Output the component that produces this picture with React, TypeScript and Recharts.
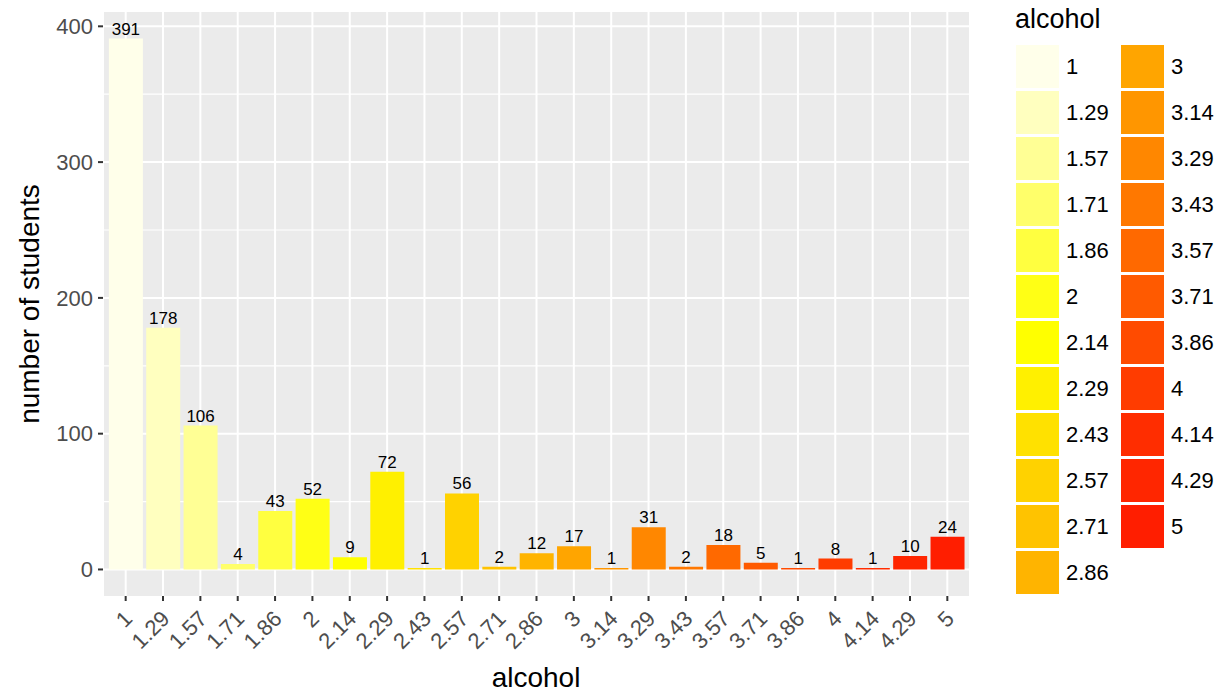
import React from 'react';
import { BarChart, Bar, XAxis, YAxis, CartesianGrid, Cell, LabelList } from 'recharts';

const alcoholLevels = ['1', '1.29', '1.57', '1.71', '1.86', '2', '2.14', '2.29', '2.43', '2.57', '2.71', '2.86',
    '3', '3.14', '3.29', '3.43', '3.57', '3.71', '3.86', '4', '4.14', '4.29', '5'];
const studentCounts = [391, 178, 106, 4, 43, 52, 9, 72, 1, 56, 2, 12, 17, 1, 31, 2, 18, 5, 1, 8, 1, 10, 24];
const barColors = ['#FFFFEA', '#FFFFBF', '#FFFF95', '#FFFF6A', '#FFFF40', '#FFFF15', '#FFFF00', '#FFF000',
    '#FFE100', '#FFD200', '#FFC300', '#FFB400', '#FFA500', '#FF9600', '#FF8700', '#FF7800', '#FF6900',
    '#FF5A00', '#FF4B00', '#FF3C00', '#FF2D00', '#FF2600', '#FF1E00'];
const yTicks = [0, 100, 200, 300, 400];
const yMinor = [50, 150, 250, 350];

const FONT = '"Liberation Sans", Arial, Helvetica, sans-serif';

const rows = alcoholLevels.map((a, i) => ({ alcohol: a, count: studentCounts[i] }));

function XTick(props: any) {
    const { x, y, payload } = props;
    return (
        <text
            x={x + 8}
            y={y + 19}
            transform={`rotate(-45, ${x + 8}, ${y + 19})`}
            textAnchor="end"
            fill="#4D4D4D"
            fontSize={22}
            fontFamily={FONT}
        >
            {payload.value}
        </text>
    );
}

function LegendBox() {
    const perCol = 12;
    return (
        <div style={{ position: 'absolute', left: 1015, top: 0, fontFamily: FONT }}>
            <div style={{ position: 'absolute', left: 0, top: 4, fontSize: 27, whiteSpace: 'nowrap', color: '#000' }}>
                alcohol
            </div>
            {alcoholLevels.map((lv, i) => {
                const col = Math.floor(i / perCol);
                const row = i % perCol;
                const left = 1 + col * 105;
                const top = 45 + row * 46;
                return (
                    <div key={lv}>
                        <div style={{ position: 'absolute', left, top, width: 43, height: 43, background: barColors[i] }} />
                        <div style={{
                            position: 'absolute', left: left + 50, top, height: 43, lineHeight: '43px',
                            fontSize: 22, color: '#000', whiteSpace: 'nowrap'
                        }}>
                            {lv}
                        </div>
                    </div>
                );
            })}
        </div>
    );
}

export default function App() {
    return (
        <div style={{ position: 'absolute', left: 0, top: 0, width: 1225, height: 694, background: '#fff', overflow: 'hidden' }}>
            <BarChart
                width={1225}
                height={694}
                data={rows}
                margin={{ top: 12, right: 255, bottom: 38, left: 40 }}
                barCategoryGap="5%"
            >
                <CartesianGrid
                    horizontalValues={yMinor}
                    vertical={false}
                    stroke="#FFFFFF"
                    strokeWidth={1.2}
                    fill="#EBEBEB"
                    fillOpacity={1}
                />
                <CartesianGrid
                    horizontalValues={yTicks}
                    stroke="#FFFFFF"
                    strokeWidth={2}
                />
                <XAxis
                    dataKey="alcohol"
                    type="category"
                    interval={0}
                    height={60}
                    axisLine={false}
                    tickSize={5}
                    tickMargin={0}
                    tickLine={{ stroke: '#333333', strokeWidth: 2 }}
                    padding={{ left: 4, right: 4 }}
                    tick={<XTick />}
                />
                <YAxis
                    type="number"
                    domain={[-19.55, 410.55]}
                    ticks={yTicks}
                    allowDataOverflow
                    width={63}
                    axisLine={false}
                    tickSize={5}
                    tickMargin={5}
                    tickLine={{ stroke: '#333333', strokeWidth: 2 }}
                    tick={{ fill: '#4D4D4D', fontSize: 22, fontFamily: FONT }}
                />
                <Bar dataKey="count" isAnimationActive={false}>
                    {rows.map((r, i) => (
                        <Cell key={`cell-${i}`} fill={barColors[i]} />
                    ))}
                    <LabelList dataKey="count" position="top" offset={4} fill="#000" fontSize={17} fontFamily={FONT} />
                </Bar>
            </BarChart>
            <div style={{
                position: 'absolute', left: 30, top: 304, transform: 'translate(-50%, -50%) rotate(-90deg)',
                fontFamily: FONT, fontSize: 28, whiteSpace: 'nowrap', color: '#000'
            }}>
                number of students
            </div>
            <div style={{
                position: 'absolute', left: 536, top: 662, transform: 'translateX(-50%)',
                fontFamily: FONT, fontSize: 28, whiteSpace: 'nowrap', color: '#000'
            }}>
                alcohol
            </div>
            <LegendBox />
        </div>
    );
}
